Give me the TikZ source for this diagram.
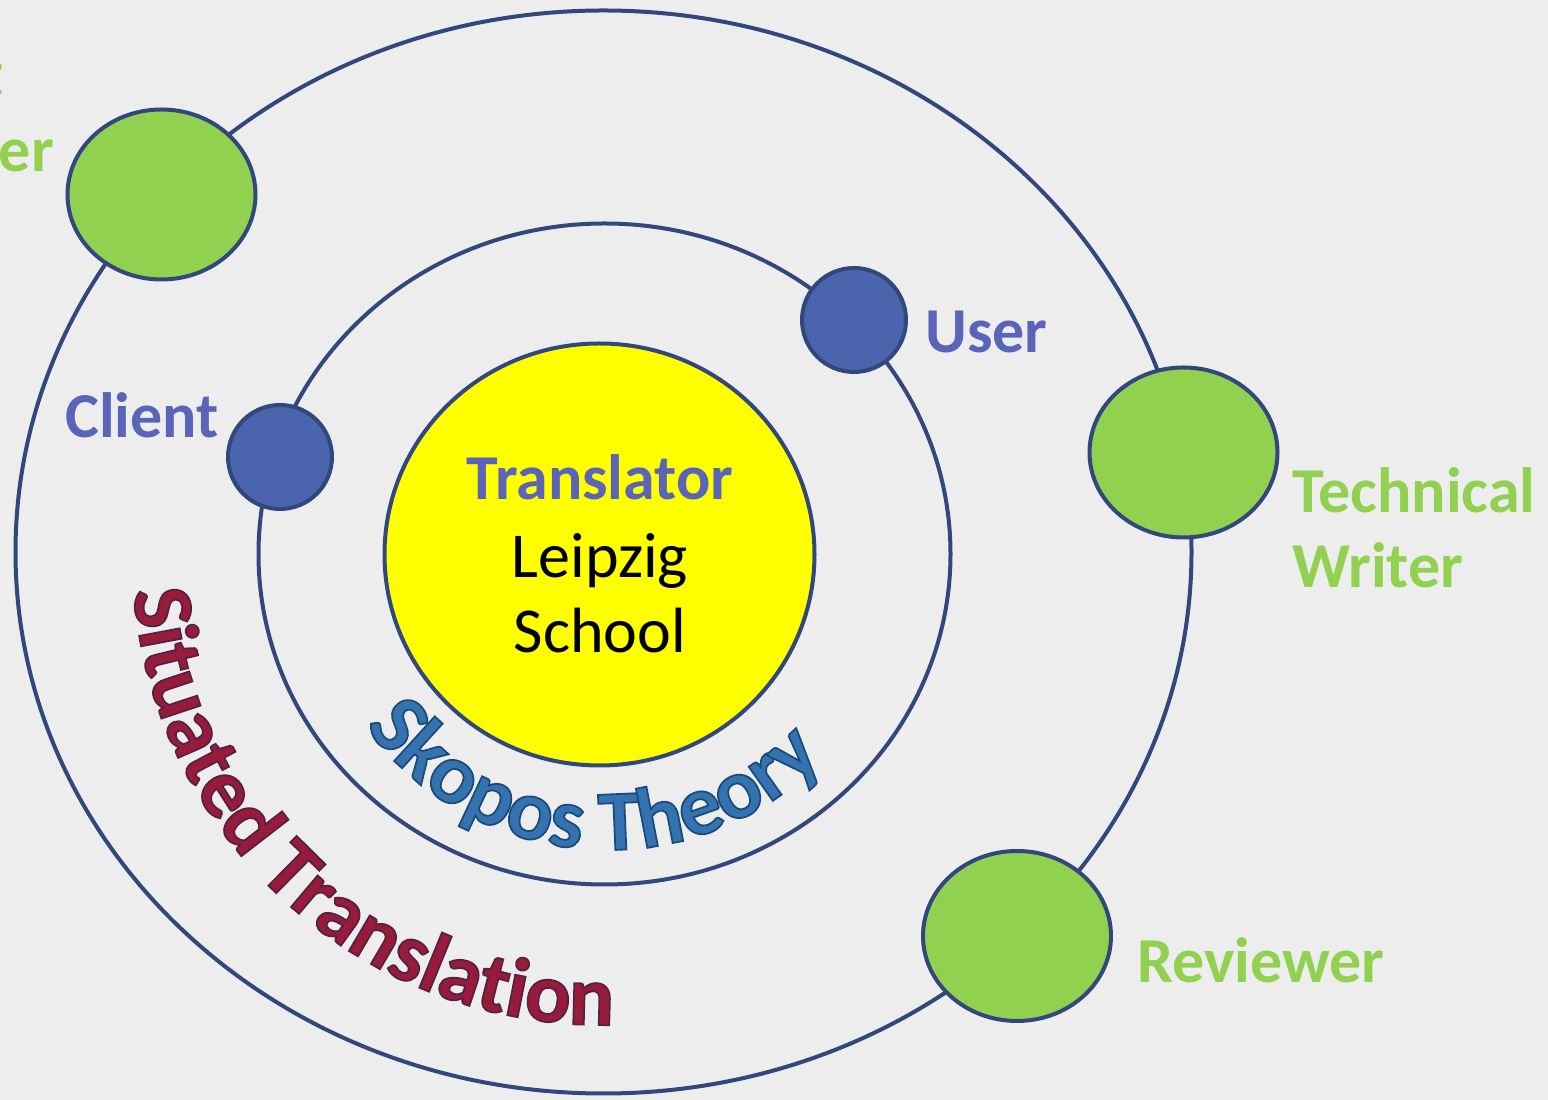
\documentclass[tikz,border=0pt]{standalone}
\usepackage{fontspec}
\setmainfont{Carlito}
\newfontfamily\outlinefam{Carlito}[BoldFeatures={FakeBold=2}]
\usetikzlibrary{shapes.geometric,decorations.text}

\definecolor{bgcol}{RGB}{237,237,237}
\definecolor{ringline}{RGB}{50,72,125}
\definecolor{rolefill}{RGB}{74,101,173}
\definecolor{leafgreen}{RGB}{146,208,80}
\definecolor{labelblue}{RGB}{90,100,185}
\definecolor{coreyellow}{RGB}{255,255,0}
\definecolor{skoposblue}{RGB}{52,115,175}
\definecolor{situatedred}{RGB}{150,28,58}

\newcommand\labelfont{\fontsize{64}{76}\selectfont}
% emboldened glyphs get a darker stroke than their fill
\newcommand\skoposfont{\fontsize{86}{86}\selectfont\outlinefam\bfseries
  \color{skoposblue}\special{pdf:code 0.10 0.29 0.47 RG}}
\newcommand\situatedfont{\fontsize{85}{85}\selectfont\outlinefam\bfseries
  \color{situatedred}\special{pdf:code 0.33 0.13 0.27 RG}}

\begin{document}
\begin{tikzpicture}[x=1pt,y=1pt,
  ring/.style={ellipse, draw=ringline, line width=4pt, inner sep=0pt},
  rolecircle/.style={circle, draw=ringline, line width=4pt, fill=rolefill, inner sep=0pt, minimum size=104},
  greenblob/.style={ellipse, draw=ringline, line width=4pt, fill=leafgreen, inner sep=0pt, minimum width=188, minimum height=170},
  lbl/.style={inner sep=0pt, font=\labelfont\bfseries},
  bluelbl/.style={lbl, text=labelblue},
  greenlbl/.style={lbl, text=leafgreen},
  corelbl/.style={inner sep=0pt, font=\labelfont, text=black, anchor=base}
]
\useasboundingbox (0,0) rectangle (1548,1100);
\clip (0,0) rectangle (1548,1100);
\fill[bgcol] (0,0) rectangle (1548,1100);

% orbits
\node[ring, minimum width=1176, minimum height=1083] (outer) at (603.5,548) {};
\node[ring, minimum width=692, minimum height=661] (middle) at (604.5,546) {};
\node[ring, fill=coreyellow, minimum width=430, minimum height=422] (core) at (599.5,545.5) {};

% core text
\node[corelbl, font=\labelfont\bfseries, text=labelblue] (translator) at (600,600) {Translator};
\node[corelbl] (leipzig) at (600,522) {Leipzig};
\node[corelbl] (school) at (600,447) {School};

% inner orbit roles
\node[rolecircle] (client) at (280,643) {};
\node[rolecircle] (user) at (854,780) {};
\node[bluelbl, anchor=base west] (clientlbl) at (65,662) {Client};
\node[bluelbl, anchor=base west] (userlbl) at (925,747) {User};

% outer orbit roles
\node[greenblob] (pm) at (161.5,905.5) {};
\node[greenblob] (tw) at (1183.5,647.5) {};
\node[greenblob] (rev) at (1017,164) {};
\node[greenlbl, anchor=base east] (pmlbl2) at (54,928) {Manager};
\node[greenlbl, anchor=base west] (pmlbl1) at ([yshift=76pt]pmlbl2.base west) {Project};
\node[greenlbl, anchor=base west] (twlbl1) at (1292,587) {Technical};
\node[greenlbl, anchor=base west] (twlbl2) at (1292,512) {Writer};
\node[greenlbl, anchor=base west] (revlbl) at (1137,117) {Reviewer};

% curved theory names
\path[decorate, decoration={text along path,
      text={|\skoposfont|Skopos Theory}}]
  (608,550) ++(216:300) arc[start angle=216, end angle=330, radius=300];
\path[decorate, decoration={text along path,
      text={|\situatedfont|Situated Translation}}]
  (603,546) ++(184.5:471) arc[start angle=184.5, end angle=285, radius=471];
\end{tikzpicture}
\end{document}
